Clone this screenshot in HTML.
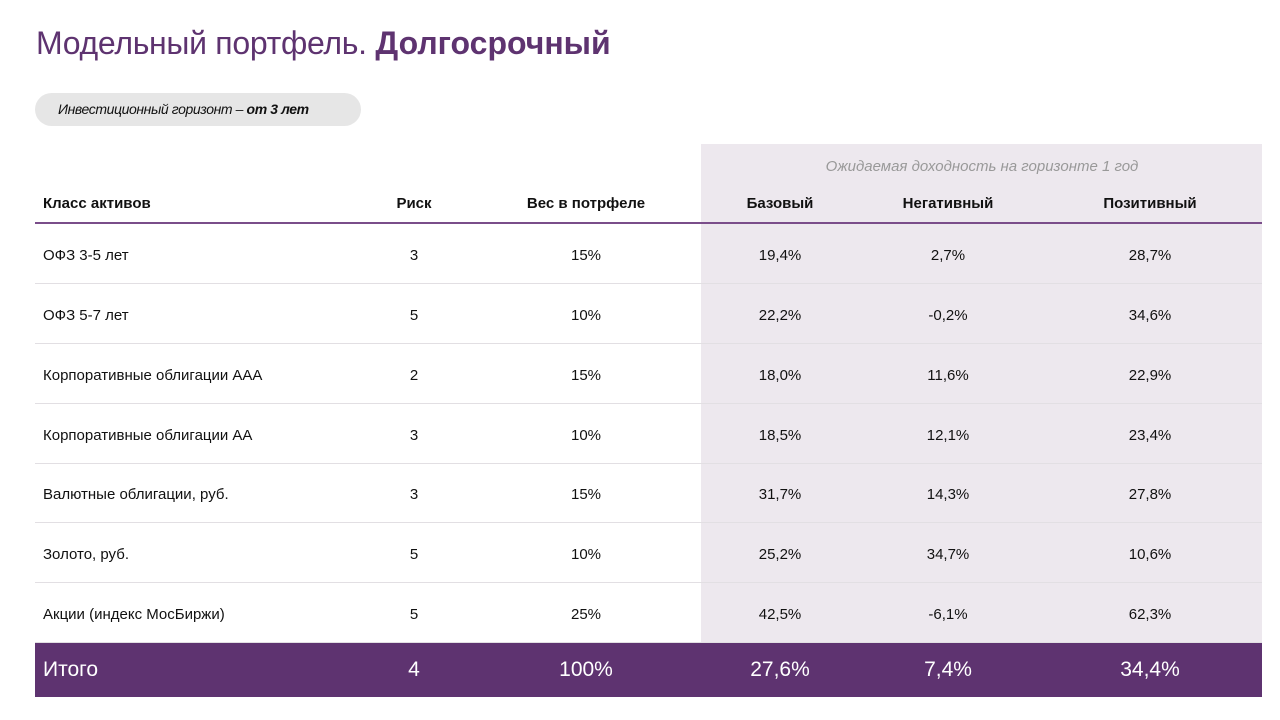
<!DOCTYPE html>
<html><head><meta charset="utf-8"><style>
body{margin:0;width:1280px;height:720px;background:#fff;font-family:"Liberation Sans",sans-serif;position:relative;overflow:hidden;color:#111}
.a{position:absolute;white-space:nowrap}
.c{transform:translateX(-50%)}
.t{left:36px;top:25px;font-size:32px;color:#5e3370;font-weight:normal;letter-spacing:-0.3px}
.t b{font-weight:bold;letter-spacing:0}
.pill{left:35px;top:93px;width:326px;height:33px;border-radius:17px;background:#e6e6e6}
.shade{left:701px;top:144px;width:561px;height:498px;background:#ede8ee}
.hl{left:35px;top:222px;width:1227px;height:2px;background:#7a4d8a}
.sep{position:absolute;left:35px;width:1227px;height:1px;background:#e2dfe3}
.h{font-size:15px;font-weight:bold;top:195px}
.r{font-size:15px;margin-top:2px}
.tot{left:35px;top:643px;width:1227px;height:54px;background:#5e3370}
.tv{color:#fff;font-size:21px;top:658px}
</style></head><body>
<div class="a t">Модельный портфель. <b>Долгосрочный</b></div>
<div class="a pill"></div>
<div class="a" style="left:58px;top:101px;font-size:14px;font-style:italic;letter-spacing:-0.4px">Инвестиционный горизонт – <b>от 3 лет</b></div>
<div class="a shade"></div>
<div class="a c" style="left:982px;top:158px;font-size:15px;font-style:italic;color:#999">Ожидаемая доходность на горизонте 1 год</div>
<div class="a h" style="left:43px">Класс активов</div>
<div class="a h c" style="left:414px">Риск</div>
<div class="a h c" style="left:586px">Вес в потрфеле</div>
<div class="a h c" style="left:780px">Базовый</div>
<div class="a h c" style="left:948px">Негативный</div>
<div class="a h c" style="left:1150px">Позитивный</div>
<div class="a hl"></div>
<div class="sep" style="top:283px"></div><div class="sep" style="top:343px"></div><div class="sep" style="top:403px"></div><div class="sep" style="top:463px"></div><div class="sep" style="top:522px"></div><div class="sep" style="top:582px"></div><div class="sep" style="top:642px"></div>
<div class="a tot"></div>
<div class="a tv" style="left:43px">Итого</div>
<div class="a tv c" style="left:414px">4</div>
<div class="a tv c" style="left:586px">100%</div>
<div class="a tv c" style="left:780px">27,6%</div>
<div class="a tv c" style="left:948px">7,4%</div>
<div class="a tv c" style="left:1150px">34,4%</div>
<div class="a r" style="left:43px;top:245px">ОФЗ 3-5 лет</div><div class="a r c" style="left:414px;top:245px">3</div><div class="a r c" style="left:586px;top:245px">15%</div><div class="a r c" style="left:780px;top:245px">19,4%</div><div class="a r c" style="left:948px;top:245px">2,7%</div><div class="a r c" style="left:1150px;top:245px">28,7%</div>
<div class="a r" style="left:43px;top:305px">ОФЗ 5-7 лет</div><div class="a r c" style="left:414px;top:305px">5</div><div class="a r c" style="left:586px;top:305px">10%</div><div class="a r c" style="left:780px;top:305px">22,2%</div><div class="a r c" style="left:948px;top:305px">-0,2%</div><div class="a r c" style="left:1150px;top:305px">34,6%</div>
<div class="a r" style="left:43px;top:365px">Корпоративные облигации ААА</div><div class="a r c" style="left:414px;top:365px">2</div><div class="a r c" style="left:586px;top:365px">15%</div><div class="a r c" style="left:780px;top:365px">18,0%</div><div class="a r c" style="left:948px;top:365px">11,6%</div><div class="a r c" style="left:1150px;top:365px">22,9%</div>
<div class="a r" style="left:43px;top:425px">Корпоративные облигации АА</div><div class="a r c" style="left:414px;top:425px">3</div><div class="a r c" style="left:586px;top:425px">10%</div><div class="a r c" style="left:780px;top:425px">18,5%</div><div class="a r c" style="left:948px;top:425px">12,1%</div><div class="a r c" style="left:1150px;top:425px">23,4%</div>
<div class="a r" style="left:43px;top:484px">Валютные облигации, руб.</div><div class="a r c" style="left:414px;top:484px">3</div><div class="a r c" style="left:586px;top:484px">15%</div><div class="a r c" style="left:780px;top:484px">31,7%</div><div class="a r c" style="left:948px;top:484px">14,3%</div><div class="a r c" style="left:1150px;top:484px">27,8%</div>
<div class="a r" style="left:43px;top:544px">Золото, руб.</div><div class="a r c" style="left:414px;top:544px">5</div><div class="a r c" style="left:586px;top:544px">10%</div><div class="a r c" style="left:780px;top:544px">25,2%</div><div class="a r c" style="left:948px;top:544px">34,7%</div><div class="a r c" style="left:1150px;top:544px">10,6%</div>
<div class="a r" style="left:43px;top:604px">Акции (индекс МосБиржи)</div><div class="a r c" style="left:414px;top:604px">5</div><div class="a r c" style="left:586px;top:604px">25%</div><div class="a r c" style="left:780px;top:604px">42,5%</div><div class="a r c" style="left:948px;top:604px">-6,1%</div><div class="a r c" style="left:1150px;top:604px">62,3%</div>
</body></html>
